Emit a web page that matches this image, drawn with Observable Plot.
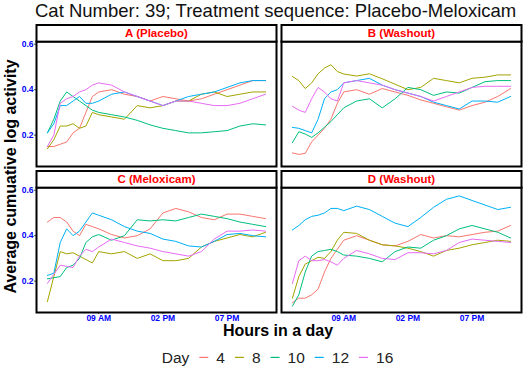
<!DOCTYPE html>
<html><head><meta charset="utf-8">
<script src="https://cdn.jsdelivr.net/npm/d3@7"></script>
<script src="https://cdn.jsdelivr.net/npm/@observablehq/plot@0.6"></script>
<style>
body{margin:0;background:#fff;}
#wrap{position:relative;width:526px;height:372px;overflow:hidden;background:#fff;font-family:"Liberation Sans",Arial,sans-serif;}
#plot{position:absolute;left:0;top:22px;}
#overlay{position:absolute;left:0;top:0;pointer-events:none;}
</style></head><body><div id="wrap"><div id="plot"></div></div>
<script>
// ---- data ----
const hours = [5,5.5,6,6.5,7,7.5,8,8.5,9,10,11,12,13,14,15,16,17,18,19,20,21,22];
const days = ["4","8","10","12","16"];
const dayColors = ["#F8766D","#A3A500","#00BF7D","#00B0F6","#E76BF3"];
const panels = ["A (Placebo)","B (Washout)","C (Meloxicam)","D (Washout)"];
const panelCol = ["left","right","left","right"];
const panelRow = ["top","top","bottom","bottom"];
const xTicks = [9,14,19];
const xTickLabels = ["09 AM","02 PM","07 PM"];
const yTicks = [0.2,0.4,0.6];
const titleText = "Cat Number: 39; Treatment sequence: Placebo-Meloxicam";
const xLabel = "Hours in a day";
const yLabel = "Average cumuative log activity";
const legendTitle = "Day";

// Panel A (Placebo)
const a4  = [0.15,0.15,0.16,0.17,0.21,0.23,0.30,0.37,0.39,0.40,0.38,0.37,0.35,0.37,0.36,0.35,0.36,0.38,0.40,0.42,0.44,0.44];
const a8  = [0.14,0.18,0.24,0.24,0.25,0.23,0.24,0.30,0.29,0.28,0.27,0.33,0.32,0.33,0.35,0.35,0.38,0.39,0.37,0.38,0.39,0.39];
const a10 = [0.21,0.27,0.35,0.39,0.37,0.35,0.33,0.31,0.30,0.29,0.28,0.265,0.245,0.23,0.22,0.21,0.21,0.215,0.22,0.24,0.25,0.245];
const a12 = [0.21,0.25,0.33,0.33,0.35,0.37,0.34,0.34,0.35,0.38,0.39,0.37,0.35,0.33,0.35,0.37,0.38,0.39,0.41,0.43,0.44,0.44];
const a16 = [0.15,0.20,0.34,0.36,0.37,0.39,0.40,0.42,0.43,0.42,0.39,0.37,0.35,0.33,0.35,0.35,0.34,0.33,0.33,0.34,0.36,0.38];
// Panel B (Washout)
const b4  = [0.122,0.115,0.12,0.17,0.20,0.23,0.27,0.34,0.39,0.40,0.38,0.405,0.39,0.375,0.355,0.34,0.325,0.31,0.33,0.345,0.37,0.405];
const b8  = [0.458,0.44,0.405,0.43,0.47,0.495,0.51,0.48,0.469,0.46,0.47,0.448,0.424,0.40,0.41,0.45,0.44,0.43,0.45,0.455,0.465,0.465];
const b10 = [0.167,0.215,0.205,0.19,0.21,0.235,0.26,0.29,0.32,0.35,0.36,0.32,0.36,0.41,0.40,0.375,0.39,0.385,0.41,0.435,0.44,0.44];
const b12 = [0.234,0.23,0.22,0.21,0.27,0.36,0.39,0.40,0.43,0.44,0.45,0.42,0.40,0.385,0.37,0.345,0.33,0.315,0.35,0.35,0.345,0.37];
const b16 = [0.327,0.31,0.30,0.36,0.41,0.39,0.36,0.35,0.43,0.44,0.43,0.42,0.40,0.385,0.37,0.35,0.37,0.39,0.41,0.415,0.415,0.415];
// Panel C (Meloxicam)
const c4  = [0.46,0.48,0.48,0.46,0.42,0.40,0.45,0.44,0.43,0.405,0.39,0.40,0.43,0.50,0.52,0.505,0.48,0.47,0.495,0.495,0.485,0.475];
const c8  = [0.11,0.22,0.33,0.32,0.325,0.31,0.295,0.28,0.33,0.32,0.33,0.30,0.32,0.29,0.29,0.30,0.35,0.375,0.39,0.405,0.395,0.415];
const c10 = [0.21,0.215,0.22,0.26,0.27,0.30,0.37,0.395,0.405,0.38,0.40,0.47,0.465,0.47,0.465,0.48,0.495,0.485,0.475,0.46,0.45,0.44];
const c12 = [0.225,0.235,0.37,0.43,0.40,0.42,0.46,0.50,0.49,0.47,0.44,0.42,0.41,0.385,0.375,0.355,0.35,0.375,0.405,0.41,0.40,0.395];
const c16 = [0.19,0.23,0.27,0.265,0.26,0.31,0.34,0.33,0.35,0.385,0.37,0.355,0.345,0.33,0.32,0.31,0.33,0.385,0.42,0.42,0.425,0.42];
// Panel D (Washout)
const d4  = [0.105,0.125,0.125,0.14,0.165,0.24,0.30,0.34,0.38,0.40,0.38,0.36,0.355,0.375,0.405,0.39,0.40,0.395,0.405,0.415,0.42,0.445];
const d8  = [0.125,0.22,0.275,0.29,0.305,0.30,0.33,0.38,0.415,0.41,0.38,0.36,0.355,0.345,0.33,0.31,0.335,0.345,0.36,0.37,0.38,0.375];
const d10 = [0.09,0.14,0.24,0.31,0.33,0.335,0.34,0.33,0.315,0.31,0.30,0.285,0.33,0.35,0.345,0.38,0.40,0.43,0.445,0.43,0.415,0.39];
const d12 = [0.425,0.445,0.47,0.485,0.49,0.50,0.52,0.52,0.51,0.53,0.515,0.485,0.455,0.44,0.48,0.525,0.56,0.575,0.555,0.535,0.515,0.525];
const d16 = [0.19,0.29,0.31,0.29,0.29,0.295,0.285,0.27,0.30,0.335,0.32,0.30,0.295,0.325,0.325,0.32,0.335,0.37,0.385,0.38,0.375,0.37];

const seriesByPanel = [[a4,a8,a10,a12,a16],[b4,b8,b10,b12,b16],[c4,c8,c10,c12,c16],[d4,d8,d10,d12,d16]];

// ---- build table ----
const rows = [];
panels.forEach((p, i) => seriesByPanel[i].forEach((vals, j) => vals.forEach((v, k) =>
  rows.push({panel: p, col: panelCol[i], row: panelRow[i], day: days[j], hour: hours[k], value: v}))));
const stripData = panels.map((label, i) => ({label, col: panelCol[i], row: panelRow[i]}));

const font = "Liberation Sans, Arial, Helvetica, sans-serif";
const H = 304, mTop = 19, mBottom = 14;
const fyPad = 0.1457;
const band = (H - mTop - mBottom) / (2 - fyPad) * (1 - fyPad);
const stripH = 16.5;

const chart = Plot.plot({
  width: 526, height: H,
  marginLeft: 35.5, marginRight: 4.5, marginTop: mTop, marginBottom: mBottom,
  style: {background: "transparent", fontFamily: font},
  fx: {domain: ["left","right"], padding: 0.0204, axis: null, label: null},
  fy: {domain: ["top","bottom"], padding: fyPad, axis: null, label: null},
  x: {domain: [4.15, 22.85], label: null},
  y: {domain: [0.062, 0.612], label: null},
  color: {domain: days, range: dayColors},
  marks: [
    Plot.frame({fill: "white"}),
    Plot.line(rows, {fx: "col", fy: "row", x: "hour", y: "value", z: "day", stroke: "day", strokeWidth: 1}),
    Plot.axisX({ticks: xTicks, tickFormat: d => xTickLabels[xTicks.indexOf(d)], tickSize: 2, tickPadding: 0.8,
      fill: "blue", stroke: "#555", fontWeight: "bold", fontSize: 8.5, label: null}),
    Plot.axisY({ticks: yTicks, tickFormat: d => d.toFixed(1), tickSize: 2, tickPadding: 1,
      fill: "blue", stroke: "#555", fontWeight: "bold", fontSize: 8.5, label: null}),
    Plot.frame({stroke: "black", strokeWidth: 2}),
    Plot.frame({stroke: "black", strokeWidth: 2, fill: "white", insetBottom: band - stripH, dy: -stripH}),
    Plot.text(stripData, {fx: "col", fy: "row", text: "label", frameAnchor: "top", dy: -stripH / 2,
      lineAnchor: "middle", fill: "red", fontWeight: "bold", fontSize: 11.5})
  ]
});
document.getElementById("plot").appendChild(chart);

// ---- overlay texts: title, axis titles, legend ----
const ns = "http://www.w3.org/2000/svg";
const ov = document.createElementNS(ns, "svg");
ov.setAttribute("id", "overlay"); ov.setAttribute("width", 526); ov.setAttribute("height", 372);
ov.style.fontFamily = font;
document.getElementById("wrap").appendChild(ov);
function txt(s, attrs) {
  const t = document.createElementNS(ns, "text");
  for (const k in attrs) t.setAttribute(k, attrs[k]);
  t.textContent = s; ov.appendChild(t); return t;
}
txt(titleText, {x: 35, y: 17.3, "font-size": 18.5, fill: "#111"});
txt(xLabel, {x: 278, y: 336, "font-size": 16, "font-weight": "bold", "text-anchor": "middle", fill: "#000"});
txt(yLabel, {transform: "translate(15.5,176.5) rotate(-90)", "font-size": 16, "font-weight": "bold", "text-anchor": "middle", fill: "#000"});

// legend
const g = document.createElementNS(ns, "g"); ov.appendChild(g);
const base = 363, fs = 15.5;
let x = 0;
const items = [];
const tTitle = txt(legendTitle, {x: 0, y: base, "font-size": fs, fill: "#222"}); g.appendChild(tTitle);
x += tTitle.getComputedTextLength() + 10;
days.forEach((d, i) => {
  const ln = document.createElementNS(ns, "line");
  ln.setAttribute("x1", x); ln.setAttribute("x2", x + 9);
  ln.setAttribute("y1", base - 5.6); ln.setAttribute("y2", base - 5.6);
  ln.setAttribute("stroke", dayColors[i]); ln.setAttribute("stroke-width", 1.2);
  g.appendChild(ln);
  x += 9 + 8;
  const t = txt(d, {x: x, y: base, "font-size": fs, fill: "#222"}); g.appendChild(t);
  x += t.getComputedTextLength() + (i < days.length - 1 ? 10 : 0);
});
g.setAttribute("transform", `translate(${277.5 - x / 2},0)`);
</script></body></html>
